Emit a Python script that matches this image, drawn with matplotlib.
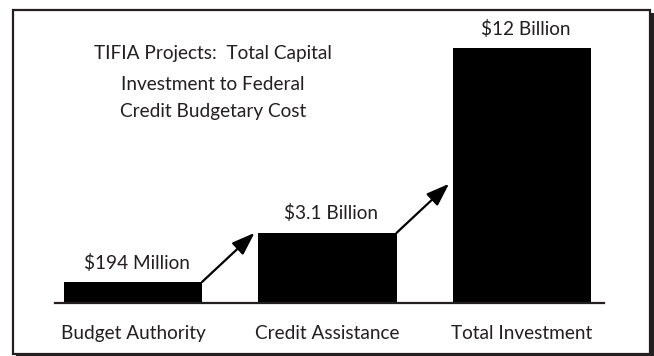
import matplotlib
matplotlib.use("Agg")
import matplotlib.pyplot as plt
from matplotlib.patches import Rectangle

# ---- data ----
categories = ["Budget Authority", "Credit Assistance", "Total Investment"]
value_labels = ["$194 Million", "$3.1 Billion", "$12 Billion"]
values_billion = [0.194, 3.1, 12.0]          # actual amounts
bar_heights = [0.99, 3.3, 12.0]              # heights as drawn (not to scale)
title_lines = ["TIFIA Projects:  Total Capital",
               "Investment to Federal",
               "Credit Budgetary Cost"]

W, H = 654, 356
plt.rcParams['font.family'] = ['Lato', 'DejaVu Sans']
fig = plt.figure(figsize=(W / 100, H / 100), dpi=100)
fig.patch.set_facecolor("white")

def fx(px):
    return px / W

def fy(py):  # py measured from top
    return 1 - py / H

# frame with drop shadow
fig.patches.append(Rectangle((fx(16), fy(356.5)), fx(654 - 16), (356.5 - 13) / H,
                             transform=fig.transFigure, facecolor="#231f20",
                             edgecolor="none", zorder=-3))
fig.patches.append(Rectangle((fx(13), fy(354)), fx(650 - 13), (354 - 10) / H,
                             transform=fig.transFigure, facecolor="white",
                             edgecolor="#231f20", lw=1.6, zorder=-2))

# axes mapped to pixel layout
px_per_unit = 255 / 12.0
ax_left, ax_right = 55, 604
ax_bottom, ax_top = 303, 20
ax = fig.add_axes([fx(ax_left), fy(ax_bottom), fx(ax_right - ax_left),
                   (ax_bottom - ax_top) / H])
ax.set_facecolor("none")
spacing = 194.5
ax.set_xlim((ax_left - 133) / spacing, (ax_right - 133) / spacing)
ax.set_ylim(0, (ax_bottom - ax_top) / px_per_unit)

pos = list(range(len(categories)))
bw = 0.71
ax.bar(pos, bar_heights, width=bw, color="black", zorder=2)

FS = 13.7
for s in ["top", "right", "left"]:
    ax.spines[s].set_visible(False)
ax.spines["bottom"].set_linewidth(1.6)
ax.spines["bottom"].set_color("#231f20")
ax.set_yticks([])
ax.set_xticks(pos, categories)
ax.tick_params(axis="x", length=0, pad=16, labelsize=FS, labelcolor="#231f20")

for p, h, lab in zip(pos, bar_heights, value_labels):
    ax.annotate(lab, (p, h), xytext=(2.5, 14), textcoords="offset points",
                ha="center", va="center", fontsize=FS, color="#231f20",
                annotation_clip=False)

# arrows between bars
rise = bar_heights[1] - bar_heights[0]
for i in range(len(pos) - 1):
    start = (pos[i] + bw / 2, bar_heights[i])
    end = (pos[i + 1] - bw / 2 - 0.02, bar_heights[i] + rise)
    ax.annotate("", xy=end, xytext=start,
                arrowprops=dict(arrowstyle="-|>,head_length=1.4,head_width=0.5",
                                mutation_scale=10, lw=1.6, color="black",
                                shrinkA=0, shrinkB=0),
                annotation_clip=False)

for txt, y in zip(title_lines, [53, 84, 112]):
    fig.text(fx(213), fy(y), txt, ha="center", va="center", fontsize=FS,
             color="#231f20")

fig.savefig("out.png", dpi=100, facecolor="white")
